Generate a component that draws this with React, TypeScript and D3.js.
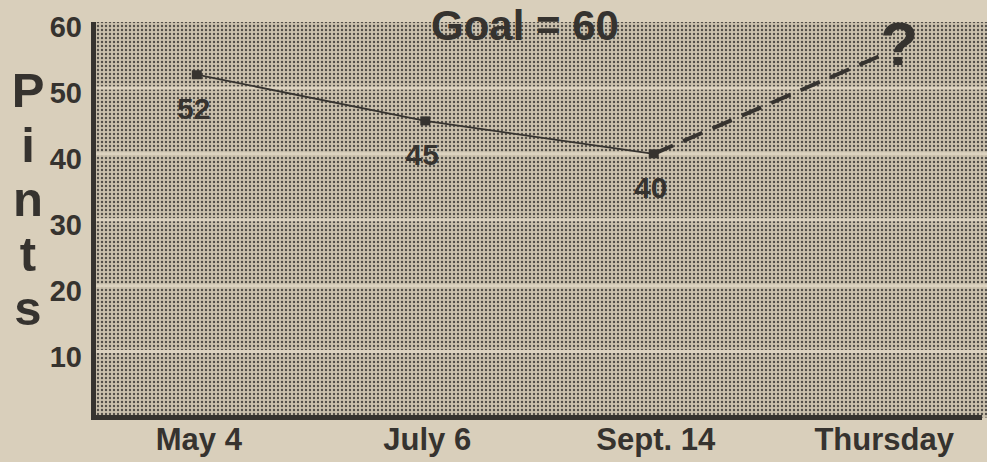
import React, { useEffect, useRef } from "react";
import * as d3 from "d3";

const categories = ["May 4", "July 6", "Sept. 14", "Thursday"];
const actualValues = [52, 45, 40];
const projectedValues = [40, 55]; // Sept. 14 -> Thursday (unknown)
const yTicks = [10, 20, 30, 40, 50, 60];
const axisTitle = ["P", "i", "n", "t", "s"];
const goalLabel = "Goal = 60";

const PAPER = "#d9cfbb";
const INK = "#36332f";
const FONT = "'Liberation Sans', Arial, Helvetica, sans-serif";

const PintsChart: React.FC = () => {
  const svgRef = useRef<SVGSVGElement>(null);

  useEffect(() => {
    if (!svgRef.current) return;

    const width = 987;
    const height = 462;
    const margin = { top: 22, right: 2, bottom: 42, left: 94 };

    const svg = d3.select(svgRef.current).attr("width", width).attr("height", height);
    svg.selectAll("*").remove();

    // halftone dot screen for the plot area
    const defs = svg.append("defs");
    const pattern = defs
      .append("pattern")
      .attr("id", "halftone")
      .attr("width", 4)
      .attr("height", 4)
      .attr("patternUnits", "userSpaceOnUse");
    pattern.append("rect").attr("width", 4).attr("height", 4).attr("fill", "#cbc1ad");
    pattern.append("circle").attr("cx", 2).attr("cy", 2).attr("r", 1.2).attr("fill", "#524e48");

    svg.append("rect").attr("width", width).attr("height", height).attr("fill", PAPER);

    const x = d3
      .scalePoint<string>()
      .domain(categories)
      .range([margin.left, width - margin.right])
      .padding(0.45);

    const y = d3
      .scaleLinear()
      .domain([0, 60])
      .range([height - margin.bottom - 2.5, margin.top]);

    // plot background
    svg
      .append("rect")
      .attr("x", margin.left)
      .attr("y", margin.top)
      .attr("width", width - margin.right - margin.left + 2)
      .attr("height", y(0) - margin.top)
      .attr("fill", "url(#halftone)");

    // light gridlines
    svg
      .append("g")
      .selectAll("line")
      .data(yTicks.filter((d) => d < 60))
      .join("line")
      .attr("x1", margin.left)
      .attr("x2", width)
      .attr("y1", (d) => y(d))
      .attr("y2", (d) => y(d))
      .attr("stroke", "#ddd3c0")
      .attr("stroke-width", 3);

    // axes
    svg
      .append("line")
      .attr("x1", margin.left - 0.5)
      .attr("x2", margin.left - 0.5)
      .attr("y1", margin.top)
      .attr("y2", y(0) + 2.5)
      .attr("stroke", INK)
      .attr("stroke-width", 5);
    svg
      .append("line")
      .attr("x1", margin.left - 3)
      .attr("x2", width - 5)
      .attr("y1", y(0))
      .attr("y2", y(0))
      .attr("stroke", INK)
      .attr("stroke-width", 5);

    // y tick labels
    svg
      .append("g")
      .selectAll("text")
      .data(yTicks)
      .join("text")
      .attr("x", 82)
      .attr("y", (d) => y(d) + 5)
      .attr("dy", "0.36em")
      .attr("text-anchor", "end")
      .attr("font-family", FONT)
      .attr("font-weight", "bold")
      .attr("font-size", 29)
      .attr("fill", INK)
      .text((d) => d);

    // stacked "Pints" axis title
    svg
      .append("g")
      .selectAll("text")
      .data(axisTitle)
      .join("text")
      .attr("x", 28)
      .attr("y", (_, i) => 107 + i * 54.5)
      .attr("text-anchor", "middle")
      .attr("font-family", FONT)
      .attr("font-weight", "bold")
      .attr("font-size", 49)
      .attr("fill", INK)
      .text((d) => d);

    // x labels
    svg
      .append("g")
      .selectAll("text")
      .data(categories)
      .join("text")
      .attr("x", (d) => (x(d) ?? 0) + 2)
      .attr("y", 450)
      .attr("text-anchor", "middle")
      .attr("font-family", FONT)
      .attr("font-weight", "bold")
      .attr("font-size", 31)
      .attr("fill", INK)
      .text((d) => d);

    // goal label
    svg
      .append("text")
      .attr("x", 525)
      .attr("y", 40)
      .attr("text-anchor", "middle")
      .attr("font-family", FONT)
      .attr("font-weight", "bold")
      .attr("font-size", 42)
      .attr("fill", INK)
      .text(goalLabel);

    const actual = actualValues.map((v, i) => ({ c: categories[i], v }));
    const projected = projectedValues.map((v, i) => ({ c: categories[i + 2], v }));

    const line = d3
      .line<{ c: string; v: number }>()
      .x((d) => x(d.c) ?? 0)
      .y((d) => y(d.v));

    svg
      .append("path")
      .datum(projected)
      .attr("fill", "none")
      .attr("stroke", INK)
      .attr("stroke-width", 4)
      .attr("stroke-dasharray", "21 11")
      .attr("d", line);

    svg
      .append("path")
      .datum(actual)
      .attr("fill", "none")
      .attr("stroke", INK)
      .attr("stroke-width", 1.8)
      .attr("d", line);

    // square markers
    svg
      .append("g")
      .selectAll("rect")
      .data(actual)
      .join("rect")
      .attr("x", (d) => (x(d.c) ?? 0) - 5)
      .attr("y", (d) => y(d.v) - 4.5)
      .attr("width", 10)
      .attr("height", 9)
      .attr("fill", INK);

    // value labels
    svg
      .append("g")
      .selectAll("text")
      .data(actual)
      .join("text")
      .attr("x", (d) => (x(d.c) ?? 0) - 3)
      .attr("y", (d) => y(d.v) + 44)
      .attr("text-anchor", "middle")
      .attr("font-family", FONT)
      .attr("font-weight", "bold")
      .attr("font-size", 30)
      .attr("fill", INK)
      .text((d) => d.v);

    // question mark at the projected point
    const last = projected[projected.length - 1];
    svg
      .append("text")
      .attr("x", (x(last.c) ?? 0) + 17)
      .attr("y", y(last.v) + 10)
      .attr("text-anchor", "middle")
      .attr("font-family", FONT)
      .attr("font-weight", "bold")
      .attr("font-size", 62)
      .attr("fill", INK)
      .text("?");
  }, []);

  return (
    <div style={{ position: "fixed", left: 0, top: 0 }}>
      <svg ref={svgRef} style={{ display: "block" }}></svg>
    </div>
  );
};

export default function App() {
  return <PintsChart />;
}
